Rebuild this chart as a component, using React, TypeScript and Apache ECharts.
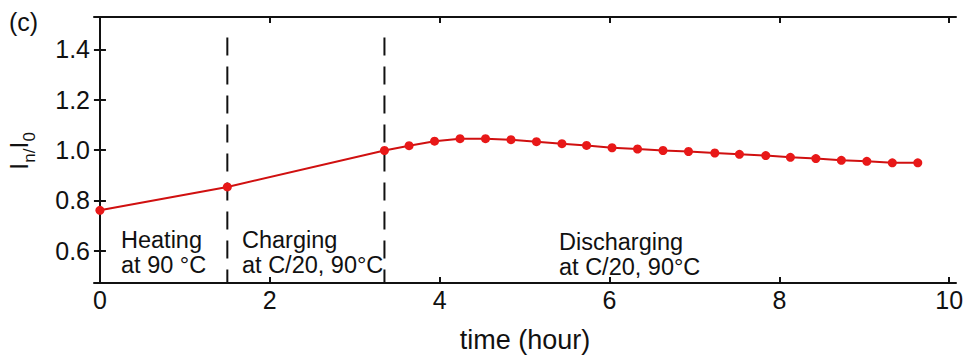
import React, { useEffect, useRef } from "react";
import * as echarts from "echarts";

const timeHours = [0, 1.5, 3.35, 3.64, 3.94, 4.24, 4.54, 4.84, 5.14, 5.44, 5.73, 6.03, 6.33, 6.63, 6.93, 7.24, 7.53, 7.84, 8.13, 8.43, 8.73, 9.03, 9.33, 9.63];
const intensityRatio = [0.760, 0.853, 0.998, 1.017, 1.035, 1.045, 1.045, 1.041, 1.033, 1.025, 1.018, 1.009, 1.004, 0.998, 0.994, 0.988, 0.983, 0.978, 0.971, 0.966, 0.959, 0.955, 0.949, 0.949];
const xTicks = [0, 2, 4, 6, 8, 10];
const yTicks = [0.6, 0.8, 1.0, 1.2, 1.4];
const phaseDividers = [1.5, 3.35];
const dividerTop = 1.447;
const xRange = [-0.07, 10.08];
const yRange = [0.471, 1.529];

const FONT = "Liberation Sans, Arial, sans-serif";

export default function App() {
  const ref = useRef<HTMLDivElement>(null);
  useEffect(() => {
    document.body.style.margin = "0";
    const chart = echarts.init(ref.current!, null, { renderer: "svg" });
    const axisLine = { show: true, lineStyle: { color: "#111", width: 2 } };
    const tickStyle = { inside: true, length: 6, lineStyle: { color: "#111", width: 2 } };
    const data = timeHours.map((t, i) => [t, intensityRatio[i]]);
    const dividerSeries = phaseDividers.map((t) => ({
      type: "line",
      data: [[t, dividerTop], [t, yRange[0]]],
      symbol: "none",
      silent: true,
      lineStyle: { color: "#111", width: 2, type: [18, 11] },
      z: 1,
    }));
    chart.setOption({
      animation: false,
      grid: { left: 94, right: 12, top: 17, bottom: 72, containLabel: false },
      xAxis: [
        {
          type: "value",
          min: xRange[0],
          max: xRange[1],
          position: "bottom",
          axisLine,
          axisTick: { ...tickStyle, customValues: xTicks },
          axisLabel: {
            customValues: xTicks,
            formatter: (v: number) => String(v),
            color: "#111",
            fontSize: 25,
            fontFamily: FONT,
            margin: 4,
          },
          splitLine: { show: false },
          name: "time (hour)",
          nameLocation: "middle",
          nameGap: 43,
          nameTextStyle: { color: "#111", fontSize: 27, fontFamily: FONT },
        },
        {
          type: "value",
          min: xRange[0],
          max: xRange[1],
          position: "top",
          axisLine,
          axisTick: { ...tickStyle, customValues: xTicks },
          axisLabel: { show: false },
          splitLine: { show: false },
        },
      ],
      yAxis: [
        {
          type: "value",
          min: yRange[0],
          max: yRange[1],
          position: "left",
          axisLine,
          axisTick: { ...tickStyle, customValues: yTicks },
          axisLabel: {
            customValues: yTicks,
            formatter: (v: number) => v.toFixed(1),
            color: "#111",
            fontSize: 25,
            fontFamily: FONT,
            margin: 4,
          },
          splitLine: { show: false },
        },
        {
          type: "value",
          min: yRange[0],
          max: yRange[1],
          position: "right",
          axisLine,
          axisTick: { ...tickStyle, customValues: yTicks },
          axisLabel: { show: false },
          splitLine: { show: false },
        },
      ],
      series: [
        ...dividerSeries,
        {
          type: "line",
          data,
          symbol: "circle",
          symbolSize: 9,
          itemStyle: { color: "#e81818" },
          lineStyle: { color: "#d01010", width: 2 },
          z: 3,
        },
      ],
      graphic: [
        {
          type: "text",
          left: 9,
          top: 9,
          style: { text: "(c)", fontSize: 25, fontFamily: FONT, fill: "#111" },
        },
        {
          type: "text",
          x: 22,
          y: 151,
          rotation: Math.PI / 2,
          style: {
            text: "{a|I}{s|n/}{a|I}{s|0}",
            align: "center",
            verticalAlign: "middle",
            fill: "#111",
            rich: {
              a: { fontSize: 26, fontFamily: FONT, fill: "#111", lineHeight: 32, verticalAlign: "top" },
              s: { fontSize: 17, fontFamily: FONT, fill: "#111", lineHeight: 32, verticalAlign: "bottom" },
            },
          },
        },
        {
          type: "text",
          x: 121,
          y: 227,
          style: { text: "Heating\nat 90 °C", fontSize: 23.5, lineHeight: 25, fontFamily: FONT, fill: "#111" },
        },
        {
          type: "text",
          x: 242,
          y: 227,
          style: { text: "Charging\nat C/20, 90°C", fontSize: 23.5, lineHeight: 25, fontFamily: FONT, fill: "#111" },
        },
        {
          type: "text",
          x: 559,
          y: 229,
          style: { text: "Discharging\nat C/20, 90°C", fontSize: 23.5, lineHeight: 25, fontFamily: FONT, fill: "#111" },
        },
      ],
    });
    return () => chart.dispose();
  }, []);
  return <div ref={ref} style={{ width: 968, height: 358 }} />;
}
